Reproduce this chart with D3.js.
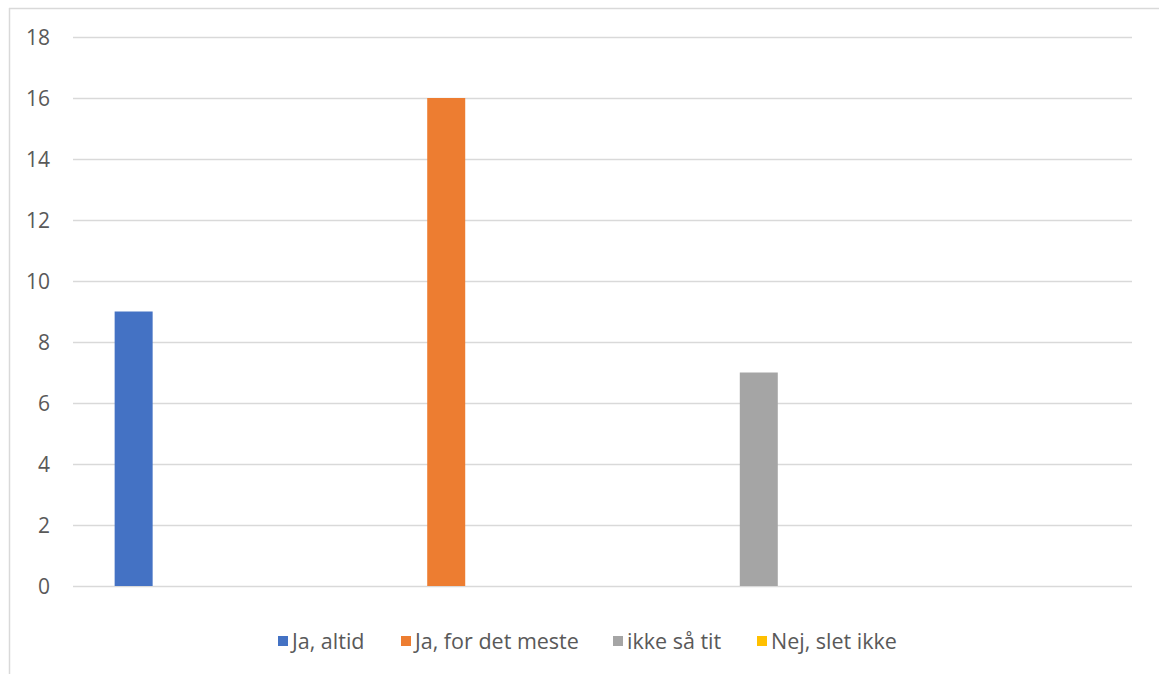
<!DOCTYPE html>
<html>
<head>
<meta charset="utf-8">
<script src="https://cdn.jsdelivr.net/npm/d3@7"></script>
<style>
html,body{margin:0;padding:0;background:#fff;}
svg{display:block;}
text{font-family:"Open Sans","Liberation Sans",sans-serif;fill:#595959;}
</style>
</head>
<body>
<svg id="chart" width="1159" height="674"></svg>
<script>
const seriesNames = ["Ja, altid", "Ja, for det meste", "ikke så tit", "Nej, slet ikke"];
const seriesValues = [9, 16, 7, 0];
const seriesColors = ["#4472c4", "#ed7d31", "#a5a5a5", "#ffc000"];
const yTicks = [0, 2, 4, 6, 8, 10, 12, 14, 16, 18];

const svg = d3.select("#chart");
const W = 1159, H = 674;
const plot = {left: 73, right: 1132, top: 37, bottom: 586};

// outer border (left and top visible)
svg.append("line").attr("x1", 9.5).attr("x2", 9.5).attr("y1", 8).attr("y2", H)
  .attr("stroke", "#d9d9d9").attr("stroke-width", 1.5);
svg.append("line").attr("x1", 9).attr("x2", W).attr("y1", 8.5).attr("y2", 8.5)
  .attr("stroke", "#d9d9d9").attr("stroke-width", 1.5);

const y = d3.scaleLinear().domain([0, 18]).range([plot.bottom, plot.top]);
const x = d3.scalePoint().domain(seriesNames).range([plot.left, plot.right]).padding(0.194);
const barW = 38;

// gridlines
const yAxis = d3.axisLeft(y).tickValues(yTicks).tickSize(-(plot.right - plot.left)).tickPadding(23);
const gy = svg.append("g").attr("transform", `translate(${plot.left},0)`).call(yAxis);
gy.attr("font-size", null).attr("font-family", null);
gy.select(".domain").remove();
gy.selectAll(".tick line").attr("stroke", "#d9d9d9").attr("stroke-width", 1.5);
gy.selectAll(".tick text").style("font-size", "21px").style("fill", "#595959")
  .attr("dy", "0.36em");

// bars
svg.append("g").selectAll("rect").data(seriesNames).join("rect")
  .attr("x", d => x(d) - barW / 2)
  .attr("width", barW)
  .attr("y", (d, i) => y(seriesValues[i]))
  .attr("height", (d, i) => y(0) - y(seriesValues[i]))
  .attr("fill", (d, i) => seriesColors[i]);

// legend
const legendX = [278, 401, 613, 757];
const lg = svg.append("g");
seriesNames.forEach((n, i) => {
  const g = lg.append("g").attr("transform", `translate(${legendX[i]},636)`);
  g.append("rect").attr("width", 10).attr("height", 10).attr("fill", seriesColors[i]);
  g.append("text").attr("x", 14).attr("y", 12.5).style("font-size", "21.5px").text(n);
});
</script>
</body>
</html>
